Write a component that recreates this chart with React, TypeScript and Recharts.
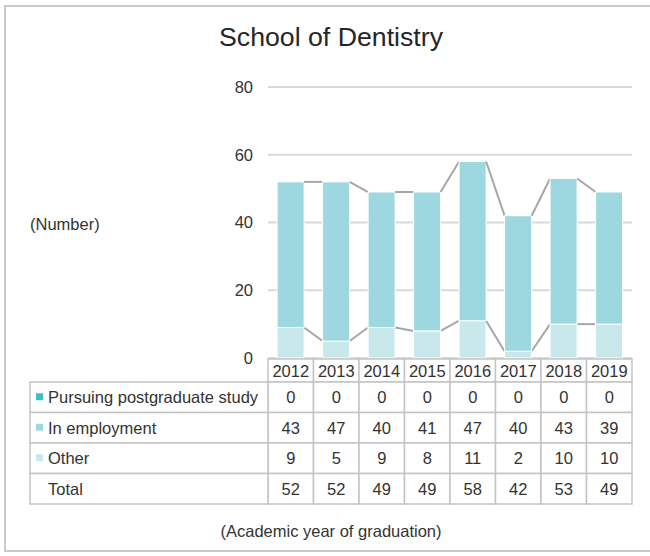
import React from 'react';
import { ComposedChart, Bar, XAxis, YAxis, CartesianGrid } from 'recharts';

const years = ['2012', '2013', '2014', '2015', '2016', '2017', '2018', '2019'];
const postgrad = [0, 0, 0, 0, 0, 0, 0, 0];
const employment = [43, 47, 40, 41, 47, 40, 43, 39];
const other = [9, 5, 9, 8, 11, 2, 10, 10];
const totals = [52, 52, 49, 49, 58, 42, 53, 49];
const yTicks = [0, 20, 40, 60, 80];

const data = years.map((year, i) => ({
  year,
  postgrad: postgrad[i],
  employment: employment[i],
  other: other[i],
}));

const rows = [
  { label: 'Pursuing postgraduate study', color: '#3bbfc4', values: postgrad },
  { label: 'In employment', color: '#9dd7df', values: employment },
  { label: 'Other', color: '#c8e8ec', values: other },
  { label: 'Total', color: null, values: totals },
];

const W = 650;
const H = 556;
const Y_AXIS_W = 60;
const MARGIN = { top: 87, right: 18, bottom: 48, left: 208 };
const X_AXIS_H = 150;
const PLOT_W = W - MARGIN.left - Y_AXIS_W - MARGIN.right;
const BAND = PLOT_W / years.length;
const Y_MAX = 80;

const HEADER_H = 23;
const ROW_H = 30.5;
const LABEL_W = 238;
const TEXT = '#333333';
const BORDER = '#c4c4c4';
const FONT = '"Liberation Sans", Arial, sans-serif';

// bar segment plus the Excel-like series line to the next bar
const makeShape = (cumulative: number[]) => (props: any) => {
  const { x, y, width, height, index, fill, background } = props;
  let line = null;
  if (index < years.length - 1 && background) {
    const yNext = background.y + background.height * (1 - cumulative[index + 1] / Y_MAX);
    line = (
      <line x1={x + width} y1={y} x2={x + BAND} y2={yNext} stroke="#a6a6a6" strokeWidth={2} />
    );
  }
  return (
    <g>
      <rect x={x} y={y} width={width} height={Math.max(height, 0)} fill={fill} stroke="#fff" strokeWidth={1} />
      {line}
    </g>
  );
};

const otherTop = other;
const employmentTop = other.map((v, i) => v + employment[i]);

const TableColumn = (props: any) => {
  const { x, y, payload } = props;
  const i = payload.index;
  const left = x - BAND / 2;
  const top = y + 1;
  return (
    <g fontFamily={FONT} fontSize={16.5} fill={TEXT}>
      <rect x={left} y={top} width={BAND} height={HEADER_H} fill="#fff" stroke={BORDER} strokeWidth={1.5} />
      <text x={x} y={top + HEADER_H / 2} textAnchor="middle" dominantBaseline="central">
        {payload.value}
      </text>
      {rows.map((r, ri) => {
        const ry = top + HEADER_H + ri * ROW_H;
        return (
          <g key={r.label}>
            <rect x={left} y={ry} width={BAND} height={ROW_H} fill="#fff" stroke={BORDER} strokeWidth={1.5} />
            <text x={x} y={ry + ROW_H / 2} textAnchor="middle" dominantBaseline="central">
              {r.values[i]}
            </text>
          </g>
        );
      })}
      {i === 0 &&
        rows.map((r, ri) => {
          const ry = top + HEADER_H + ri * ROW_H;
          const lx = left - LABEL_W;
          return (
            <g key={'l' + r.label}>
              <rect x={lx} y={ry} width={LABEL_W} height={ROW_H} fill="#fff" stroke={BORDER} strokeWidth={1.5} />
              {r.color && <rect x={lx + 6} y={ry + ROW_H / 2 - 4} width={7} height={7} fill={r.color} />}
              <text x={lx + 18} y={ry + ROW_H / 2} dominantBaseline="central">
                {r.label}
              </text>
            </g>
          );
        })}
    </g>
  );
};

export default function App() {
  return (
    <div style={{ position: 'absolute', left: 0, top: 0, width: W, height: H, background: '#fff', fontFamily: FONT }}>
      <div
        style={{
          position: 'absolute',
          left: 4,
          top: 5,
          width: W,
          height: 547,
          border: '2px solid #cacace',
          boxSizing: 'border-box',
        }}
      />
      <div style={{ position: 'absolute', left: 0, top: 22, width: 662, textAlign: 'center', fontSize: 26.7, color: '#262626' }}>
        School of Dentistry
      </div>
      <div style={{ position: 'absolute', left: 30, top: 215, fontSize: 16.5, color: TEXT }}>(Number)</div>
      <div style={{ position: 'absolute', left: 0, top: 522, width: 662, textAlign: 'center', fontSize: 16.5, color: TEXT }}>
        (Academic year of graduation)
      </div>
      <div style={{ position: 'absolute', left: 0, top: 0 }}>
        <ComposedChart width={W} height={H} data={data} margin={MARGIN} barCategoryGap="20%">
          <CartesianGrid vertical={false} stroke="#d9d9d9" strokeWidth={2} />
          <XAxis
            dataKey="year"
            height={X_AXIS_H}
            axisLine={false}
            tickLine={false}
            tickSize={0}
            tickMargin={0}
            interval={0}
            tick={<TableColumn />}
          />
          <YAxis
            width={Y_AXIS_W}
            domain={[0, Y_MAX]}
            ticks={yTicks}
            axisLine={false}
            tickLine={false}
            tickSize={0}
            tickMargin={15}
            tick={{ fill: TEXT, fontSize: 16.5, fontFamily: FONT }}
          />
          <Bar dataKey="other" stackId="a" fill="#c8e8ec" shape={makeShape(otherTop)} isAnimationActive={false} />
          <Bar dataKey="employment" stackId="a" fill="#9dd7df" shape={makeShape(employmentTop)} isAnimationActive={false} />
          <Bar dataKey="postgrad" stackId="a" fill="#3bbfc4" isAnimationActive={false} />
        </ComposedChart>
      </div>
    </div>
  );
}
